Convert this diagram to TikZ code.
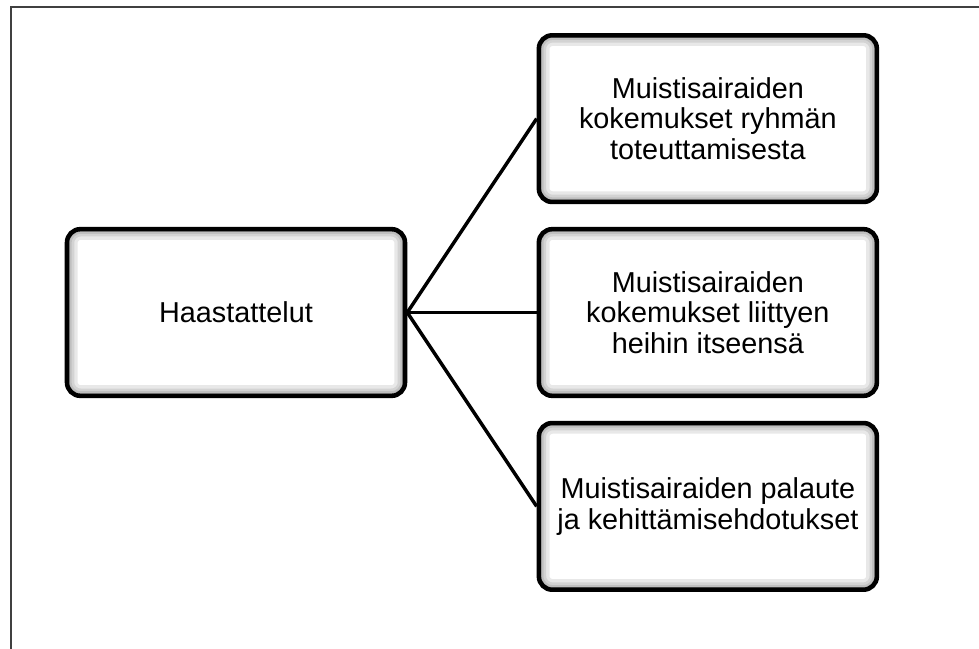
\documentclass[tikz,border=0pt]{standalone}
\usepackage{fontspec}
\setmainfont{Liberation Sans}
\usetikzlibrary{positioning, shadows}

\begin{document}
\begin{tikzpicture}[
    x=0.75pt, y=-0.75pt,
    node distance=17pt,
    bigbox/.style={rectangle, rounded corners=10pt, draw, line width=3.4pt, fill=white,
        minimum width=253.5pt, minimum height=125pt, align=center,
        font=\fontsize{21.6}{22.8}\selectfont,
        drop shadow={shadow xshift=0pt, shadow yshift=-1.5pt, opacity=0.3},
        path picture={
            \foreach \w in {16pt,11pt,7pt,4pt}
                \draw[black, opacity=0.09, line width=\w, rounded corners=10pt]
                    (path picture bounding box.south west) rectangle (path picture bounding box.north east);
        }},
    link/.style={line width=2.6pt}
]
\useasboundingbox (0,0) rectangle (979,649);
\draw[line width=1.1pt, black!75] (11,649) -- (11,7) -- (979,7);

\node[bigbox] (haast) at (236,312.5) {Haastattelut};
\node[bigbox, right=97pt of haast] (itse) {Muistisairaiden\\kokemukset liittyen\\heihin itseensä};
\node[bigbox, above=of itse] (ryhma) {Muistisairaiden\\kokemukset ryhmän\\toteuttamisesta};
\node[bigbox, below=of itse] (palaute) {Muistisairaiden palaute\\ja kehittämisehdotukset};

\draw[link] (haast.east) -- (ryhma.west);
\draw[link] (haast.east) -- (itse.west);
\draw[link] (haast.east) -- (palaute.west);
\end{tikzpicture}
\end{document}
